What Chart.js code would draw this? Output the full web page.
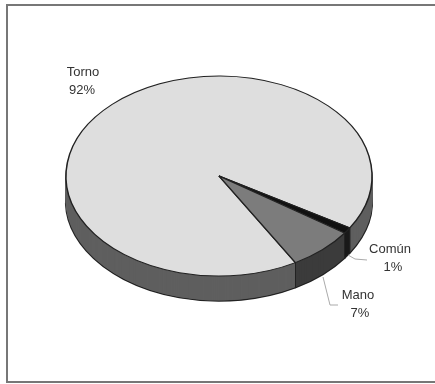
<html>
<head>
	<meta charset="utf-8">
	<script src="https://cdn.jsdelivr.net/npm/chart.js@4/dist/chart.umd.min.js"></script>
	<title>Torno Mano Comun</title>
	<style>
		html, body { margin: 0; padding: 0; background: #fff; overflow: hidden; }
		/* the reference is a soft scan */
		canvas { display: block; filter: blur(0.5px); }
	</style>
</head>
<body>
	<canvas id="pie" width="435" height="384"></canvas>
	<script>
		const categories = ["Torno", "Común", "Mano"];
		const shares = [92, 1, 7];
		const topColors = ["#dedede", "#111111", "#7c7c7c"];
		const wallColors = ["#5f5f5f", "#1a1a1a", "#3c3c3c"];

		// look of the tilted pie
		const centerY = 176, squash = 0.654, depth = 25;
		// label anchors, same order as categories
		const nameX = [83, 390, 358];
		const nameY = [72, 249, 295];
		const shareX = [82, 393, 360];
		const shareY = [90, 267, 313];
		const leaders = [null, [[348, 255], [355, 259], [367, 260]], [[323, 277], [330, 305], [338, 305]]];

		function tilt(ctx, arc, drop) {
			ctx.translate(0, centerY + drop);
			ctx.scale(1, squash);
			ctx.translate(0, -arc.y);
		}

		function drawArc(ctx, arc, fill, border, width) {
			const saved = arc.options;
			arc.options = Object.assign({}, saved, { backgroundColor: fill, borderColor: border, borderWidth: width });
			arc.draw(ctx);
			arc.options = saved;
		}

		const tiltedPie = {
			id: "tiltedPie",
			beforeDatasetsDraw(chart) {
				const ctx = chart.ctx;
				const arcs = chart.getDatasetMeta(0).data;
				// wall: the same slices stacked from the bottom up
				for (let d = depth; d > 0; d--) {
					ctx.save();
					tilt(ctx, arcs[0], d);
					arcs.forEach((arc, i) => {
						const edge = d === depth ? "#222222" : wallColors[i];
						drawArc(ctx, arc, wallColors[i], edge, d === depth ? 2 : 1);
					});
					ctx.restore();
				}
				// vertical edges where the slices meet
				arcs.forEach(arc => {
					const a = arc.endAngle;
					if (Math.sin(a) <= 0) return;
					const x = arc.x + arc.outerRadius * Math.cos(a);
					const y = centerY + arc.outerRadius * Math.sin(a) * squash;
					ctx.strokeStyle = "#222222";
					ctx.lineWidth = 1;
					ctx.beginPath();
					ctx.moveTo(x, y);
					ctx.lineTo(x, y + depth);
					ctx.stroke();
				});
				ctx.save();
				tilt(ctx, arcs[0], 0);
				arcs.forEach((arc, i) => drawArc(ctx, arc, topColors[i], "#222222", 1.5));
				ctx.restore();
				return false;
			},
			afterDraw(chart) {
				const ctx = chart.ctx;
				ctx.save();
				ctx.strokeStyle = "#777777";
				ctx.lineWidth = 2;
				ctx.beginPath();
				ctx.moveTo(435, 5);
				ctx.lineTo(7, 5);
				ctx.lineTo(7, 382);
				ctx.lineTo(435, 382);
				ctx.stroke();
				ctx.fillStyle = "#333333";
				ctx.font = "13px 'Liberation Sans'";
				ctx.textAlign = "center";
				ctx.textBaseline = "middle";
				categories.forEach((name, i) => {
					ctx.fillText(name, nameX[i], nameY[i]);
					ctx.fillText(shares[i] + "%", shareX[i], shareY[i]);
					if (leaders[i]) {
						ctx.strokeStyle = "#aaaaaa";
						ctx.lineWidth = 1;
						ctx.beginPath();
						leaders[i].forEach((p, k) => k ? ctx.lineTo(p[0], p[1]) : ctx.moveTo(p[0], p[1]));
						ctx.stroke();
					}
				});
				ctx.restore();
			}
		};

		new Chart(document.getElementById("pie"), {
			type: "pie",
			data: {
				labels: categories,
				datasets: [{ data: shares, backgroundColor: topColors, borderWidth: 0 }]
			},
			options: {
				responsive: false,
				animation: false,
				rotation: 150,
				layout: { padding: { left: 66, right: 63 } },
				plugins: { legend: { display: false }, tooltip: { enabled: false } }
			},
			plugins: [tiltedPie]
		});
	</script>
</body>
</html>
